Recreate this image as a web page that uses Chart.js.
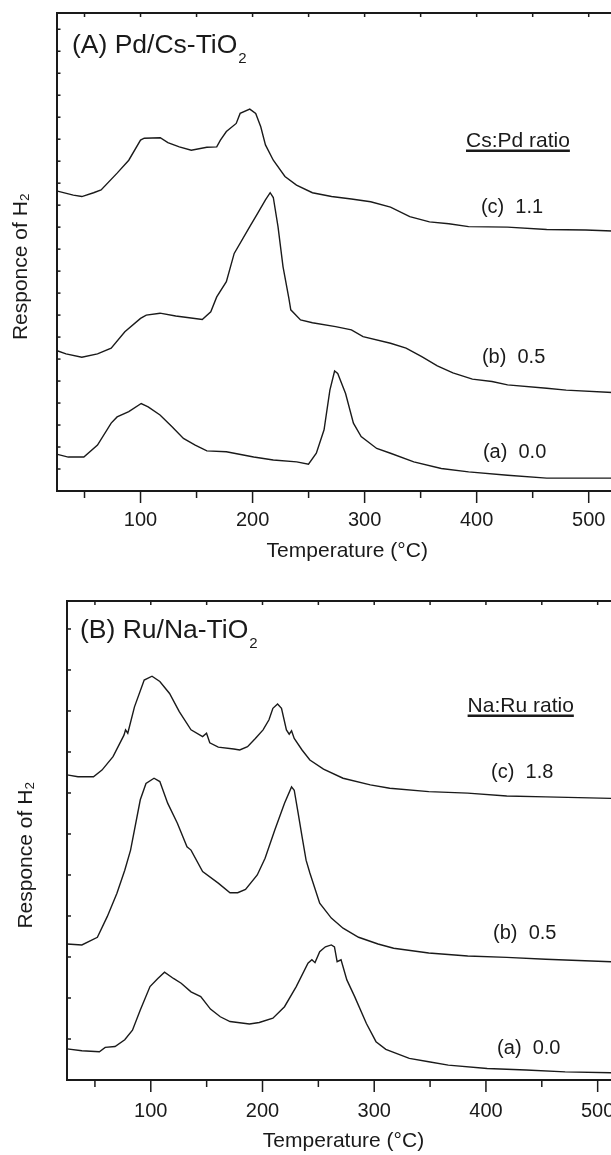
<!DOCTYPE html>
<html>
<head>
<meta charset="utf-8">
<script src="https://cdn.jsdelivr.net/npm/chart.js@4.4.1/dist/chart.umd.min.js"></script>
<style>
  html, body { margin: 0; padding: 0; background: #fff; overflow: hidden; width: 611px; height: 1155px; }
  canvas { position: absolute; left: 0; }
  #chartA { top: 0; }
  #chartB { top: 580px; }
</style>
</head>
<body>
<canvas id="chartA" width="640" height="575"></canvas>
<canvas id="chartB" width="622" height="575"></canvas>
<script>
// temperature (C), H2 response (arb. units, 0-100 = frame height)
var pdCs11 = [[25,62.8],[40,61.9],[47.6,61.6],[58.1,62.4],[64.8,63.0],[79.1,66.5],[89.5,69.2],[100,73.4],[103.3,73.8],[117.6,73.9],[124.4,72.9],[134.6,72.0],[145.3,71.3],[159.2,71.9],[168,72.0],[171.3,73.4],[176.6,75.2],[185.4,76.9],[188.9,79.0],[197.5,79.9],[202.8,79.0],[207.3,76.2],[211.5,72.4],[218.5,69.2],[228.9,65.8],[239.2,64.0],[253.4,62.4],[270.5,61.6],[288.2,61.1],[305.4,60.5],[323.1,59.4],[340.3,57.4],[357.9,56.3],[375.2,55.9],[392.8,55.3],[427.6,55.2],[462.5,54.7],[497.4,54.6],[521,54.4]];
var pdCs05 = [[25,29.4],[33.5,28.7],[47.6,28.0],[61.6,28.7],[73.8,29.9],[86,33.3],[100,36.1],[105.1,36.8],[117.4,37.2],[131.4,36.6],[141.7,36.3],[155.1,35.9],[162.7,37.5],[168,40.6],[176.6,43.8],[183.6,49.7],[197.5,55.3],[204.5,58.1],[211.5,60.9],[215.7,62.4],[218.5,61.4],[222.7,55.3],[227.2,46.9],[232.4,40.3],[234.1,37.9],[242.8,35.8],[253.4,35.2],[274.1,34.4],[288.2,33.7],[298.6,32.3],[323.1,30.9],[337,29.9],[351,28.1],[364.9,26.2],[378.8,24.7],[396.2,23.4],[413.7,22.9],[427.6,22.2],[462.5,21.5],[479.9,21.1],[521,20.6]];
var pdCs00 = [[25,7.7],[35.5,7.1],[49.4,7.1],[61.6,9.6],[73.8,14.2],[79.1,15.5],[89.5,16.6],[100.6,18.3],[106.8,17.6],[117.4,15.9],[127.9,13.5],[138.3,11.0],[148.8,9.6],[159.2,8.4],[176.6,8.2],[201,7.1],[218.5,6.5],[239.4,6.1],[249.9,5.6],[256.9,7.9],[263.8,12.8],[269,21.1],[273.2,25.1],[276,24.6],[283,20.4],[290,14.2],[296.9,11.4],[310.8,8.9],[323.1,7.9],[343.9,6.1],[368.4,4.7],[392.8,4.0],[427.6,3.3],[462.5,2.7],[521,2.7]];

var ruNa18 = [[25,63.7],[34.8,63.3],[48.7,63.3],[56.3,64.7],[66.2,67.5],[76,72.0],[77.4,73.1],[79.4,72.4],[85.4,77.9],[94.1,83.5],[101.1,84.3],[108.1,83.2],[116.8,80.7],[125.5,76.9],[136,73.1],[146.4,71.7],[149.9,72.4],[152.8,70.4],[160.4,69.5],[174.3,69.1],[179.6,68.9],[186.6,69.6],[193.6,71.3],[200.5,73.1],[205.8,75.2],[209.3,77.6],[213.5,78.5],[217,77.6],[221.4,73.1],[223.9,72.2],[226,72.9],[228.4,71.3],[235.4,68.9],[242.4,66.8],[254.6,64.9],[272.1,63.0],[296.5,61.6],[313.9,60.9],[348.8,60.2],[383.7,59.9],[418.6,59.3],[453.5,59.1],[512,58.8]];
var ruNa05 = [[25,28.4],[38.3,28.2],[52.2,29.8],[61,34.1],[69.7,39.0],[76.7,43.8],[81.9,48.0],[90.6,58.5],[95.7,61.9],[102.9,63.0],[108.1,62.3],[115.1,57.8],[123.8,53.6],[132.4,48.7],[136,48.0],[146.4,43.5],[160.4,41.1],[170.9,39.1],[177.8,39.1],[184.8,39.8],[195.3,42.8],[202.3,46.3],[211,52.2],[219.7,57.8],[226,61.2],[228.4,60.5],[231.9,55.7],[235.4,50.8],[239,45.9],[242.4,43.2],[251.2,36.9],[261.6,33.8],[272.1,31.7],[286,29.8],[303.4,28.4],[317.4,27.5],[348.8,26.5],[383.7,25.9],[418.6,25.6],[453.5,25.2],[512,24.7]];
var ruNa00 = [[25,6.5],[38.3,6.1],[54,5.9],[59.2,6.8],[68,7.0],[76.7,8.4],[83.6,10.4],[90.6,14.6],[99.3,19.5],[106.3,21.2],[112.3,22.5],[120.3,21.2],[127.2,20.2],[136,18.4],[144.7,17.4],[153.4,14.8],[162.2,13.2],[170.9,12.2],[188.3,11.7],[197.1,12.0],[209.3,12.9],[219.7,15.3],[230.2,19.5],[240.7,24.4],[244.2,25.1],[247,24.5],[251.2,26.8],[256.3,27.8],[261.6,28.2],[264.4,27.8],[266.8,24.7],[270.3,25.1],[275.5,20.9],[282.5,17.4],[293,11.8],[301.6,8.0],[310.4,6.4],[331.4,4.5],[348.8,3.8],[366.3,3.1],[401.1,2.4],[436,2.1],[470.9,1.7],[512,1.5]];

var ratioLabelsA = ['(c)  1.1', '(b)  0.5', '(a)  0.0'];
var ratioLabelsB = ['(c)  1.8', '(b)  0.5', '(a)  0.0'];

var FONT = '"Liberation Sans", Arial, Helvetica, sans-serif';
var INK = '#1a1a1a';

function pts(arr) { return arr.map(function (p) { return { x: p[0], y: p[1] }; }); }

var frame = {
  id: 'frame',
  afterDraw: function (chart, args, opts) {
    var ctx = chart.ctx, a = chart.chartArea, x = chart.scales.x, y = chart.scales.y;
    ctx.save();
    ctx.strokeStyle = INK;
    ctx.lineWidth = 2;
    ctx.beginPath();
    ctx.moveTo(a.left, a.top); ctx.lineTo(a.right, a.top); ctx.lineTo(a.right, a.bottom);
    ctx.stroke();
    ctx.lineWidth = 1.5;
    x.ticks.forEach(function (t) {
      var px = x.getPixelForValue(t.value);
      var len = t.value % 100 === 0 ? 12 : 7;
      ctx.beginPath(); ctx.moveTo(px, a.bottom); ctx.lineTo(px, a.bottom + len); ctx.stroke();
      ctx.beginPath(); ctx.moveTo(px, a.top); ctx.lineTo(px, a.top + 4); ctx.stroke();
    });
    y.ticks.forEach(function (t) {
      var py = y.getPixelForValue(t.value);
      ctx.beginPath(); ctx.moveTo(a.left, py); ctx.lineTo(a.left + 4, py); ctx.stroke();
    });
    ctx.fillStyle = INK;
    ctx.textBaseline = 'alphabetic';
    opts.notes.forEach(function (n) {
      var px = x.getPixelForValue(n.x), py = y.getPixelForValue(n.y);
      ctx.font = n.size + 'px ' + FONT;
      ctx.fillText(n.text, px, py);
      var w = ctx.measureText(n.text).width;
      if (n.sub) {
        ctx.font = Math.round(n.size * 0.55) + 'px ' + FONT;
        ctx.fillText(n.sub, px + w + 1, py + n.size * 0.38);
      }
      if (n.underline) {
        ctx.lineWidth = 2.5;
        ctx.beginPath(); ctx.moveTo(px, py + 4); ctx.lineTo(px + w, py + 4); ctx.stroke();
      }
    });
    ctx.restore();
  }
};

function makeChart(id, series, xmax, yStep, yTitlePad, axisH, yW, padTop, tickGap, titlePad, notes) {
  return new Chart(document.getElementById(id), {
    type: 'line',
    data: {
      datasets: series.map(function (s) {
        return { data: pts(s), borderColor: INK, borderWidth: 1.4, pointRadius: 0, tension: 0, fill: false };
      })
    },
    options: {
      responsive: false,
      animation: false,
      events: [],
      layout: { padding: { top: padTop, right: 2, left: 0, bottom: 0 } },
      plugins: { legend: { display: false }, tooltip: { enabled: false }, frame: { notes: notes } },
      scales: {
        x: {
          type: 'linear', min: 25, max: xmax,
          afterFit: function (s) { s.height = axisH; },
          border: { display: true, color: INK, width: 2 },
          grid: { drawOnChartArea: false, drawTicks: true, tickLength: tickGap, tickColor: 'rgba(0,0,0,0)' },
          ticks: {
            stepSize: 50, includeBounds: false, padding: 0, maxRotation: 0, autoSkip: false,
            color: INK, font: { family: FONT, size: 20 },
            callback: function (v) { return v % 100 === 0 ? String(v) : ''; }
          },
          title: { display: true, text: 'Temperature (°C)', color: INK, font: { family: FONT, size: 21 }, padding: { top: 0, bottom: titlePad } }
        },
        y: {
          min: 0, max: 100,
          afterFit: function (s) { s.width = yW; },
          border: { display: true, color: INK, width: 2 },
          grid: { drawOnChartArea: false, drawTicks: false },
          ticks: { display: false, stepSize: yStep, includeBounds: false },
          // trailing spaces push the rotated title a little below the frame centre, as in the original
          title: { display: true, text: 'Responce of H₂     ', color: INK, font: { family: FONT, size: 21 }, padding: { top: yTitlePad, bottom: 0 } }
        }
      }
    },
    plugins: [frame]
  });
}

makeChart('chartA', [pdCs11, pdCs05, pdCs00], 544, 4.6, 9, 84, 56.5, 13, 17, 11, [
  { text: '(A) Pd/Cs-TiO', sub: '2', x: 38.8, y: 91.6, size: 26.5 },
  { text: 'Cs:Pd ratio', x: 390.5, y: 72.0, size: 21, underline: true },
  { text: ratioLabelsA[0], x: 403.8, y: 58.2, size: 20 },
  { text: ratioLabelsA[1], x: 404.7, y: 26.8, size: 20 },
  { text: ratioLabelsA[2], x: 405.6, y: 6.9, size: 20 }
]);

makeChart('chartB', [ruNa18, ruNa05, ruNa00], 520, 8.56, 14, 75, 67, 21, 19, 1, [
  { text: '(B) Ru/Na-TiO', sub: '2', x: 36.6, y: 92.3, size: 26.5 },
  { text: 'Na:Ru ratio', x: 383.6, y: 76.9, size: 21, underline: true },
  { text: ratioLabelsB[0], x: 404.6, y: 63.0, size: 20 },
  { text: ratioLabelsB[1], x: 406.4, y: 29.4, size: 20 },
  { text: ratioLabelsB[2], x: 410, y: 5.4, size: 20 }
]);
</script>
</body>
</html>
